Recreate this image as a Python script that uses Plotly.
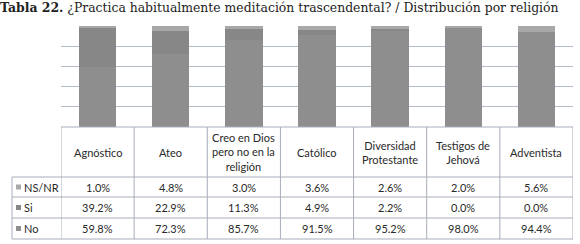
import plotly.graph_objects as go

categories = ["Agnóstico", "Ateo", "Creo en Dios<br>pero no en la<br>religión", "Católico",
              "Diversidad<br>Protestante", "Testigos de<br>Jehová", "Adventista"]
series_names = ["NS/NR", "Si", "No"]
ns_nr = [1.0, 4.8, 3.0, 3.6, 2.6, 2.0, 5.6]
si = [39.2, 22.9, 11.3, 4.9, 2.2, 0.0, 0.0]
no = [59.8, 72.3, 85.7, 91.5, 95.2, 98.0, 94.4]
series_values = [ns_nr, si, no]
series_colors = ["#a8a8a8", "#878787", "#8e8e8e"]

W, H = 580, 244
def py(p):
    return (H - p) / H
def px(p):
    return p / W

xs = list(range(len(categories)))

fig = go.Figure()
# stacked: No at bottom, Si, NS/NR on top
for idx in [2, 1, 0]:
    fig.add_trace(go.Bar(x=xs, y=series_values[idx], name=series_names[idx],
                         marker=dict(color=series_colors[idx], line=dict(width=0)),
                         showlegend=False, hoverinfo="skip"))

line_col = "#a7adba"
table_top, header_bot = 127, 177
row_edges = [177, 197, 218, 239]
label_left = 12

shapes = []
for i in range(len(categories) + 1):
    shapes.append(dict(type="line", xref="x", yref="paper", x0=i - 0.5, x1=i - 0.5,
                       y0=py(row_edges[-1]), y1=py(table_top),
                       line=dict(color=line_col, width=1)))
shapes.append(dict(type="line", xref="paper", yref="paper", x0=px(label_left), x1=px(label_left),
                   y0=py(row_edges[-1]), y1=py(header_bot), line=dict(color=line_col, width=1)))
shapes.append(dict(type="line", xref="x", yref="paper", x0=-0.5, x1=len(categories) - 0.5,
                   y0=py(table_top), y1=py(table_top), line=dict(color=line_col, width=1)))
for r in row_edges:
    shapes.append(dict(type="line", xref="paper", yref="paper", x0=px(label_left), x1=1 - px(7),
                       y0=py(r), y1=py(r), line=dict(color=line_col, width=1)))

annotations = []
annotations.append(dict(xref="paper", yref="paper", x=-0.003, y=1.01, xanchor="left", yanchor="top",
                        showarrow=False,
                        text="<b>Tabla 22.</b> ¿Practica habitualmente meditación trascendental? / Distribución por religión",
                        font=dict(family="DejaVu Serif", size=12.4, color="#222")))
tfont = dict(family="Lato", size=11, color="#2a2a2a")
for i, c in enumerate(categories):
    annotations.append(dict(xref="x", yref="paper", x=i, y=py((table_top + header_bot) / 2),
                            xanchor="center", yanchor="middle", showarrow=False, text=c,
                            font=tfont, align="center"))
for r, (name, vals) in enumerate(zip(series_names, series_values)):
    yc = py((row_edges[r] + row_edges[r + 1]) / 2)
    shapes.append(dict(type="rect", xref="paper", yref="paper",
                       x0=px(16), x1=px(21), y0=yc - 2.5 / H, y1=yc + 2.5 / H,
                       fillcolor=series_colors[r], line=dict(width=0)))
    annotations.append(dict(xref="paper", yref="paper", x=px(22), y=yc, xanchor="left",
                            yanchor="middle", showarrow=False, text=name, font=tfont))
    for i, v in enumerate(vals):
        annotations.append(dict(xref="x", yref="paper", x=i, y=yc, xanchor="center",
                                yanchor="middle", showarrow=False, text=f"{v:.1f}%", font=tfont))

fig.update_layout(
    width=W, height=H, margin=dict(l=0, r=0, t=0, b=0),
    paper_bgcolor="white", plot_bgcolor="white",
    barmode="stack", bargap=0.49,
    xaxis=dict(domain=[px(61), 1 - px(7)], range=[-0.5, len(categories) - 0.5],
               showticklabels=False, showgrid=False, zeroline=False, ticks=""),
    yaxis=dict(domain=[py(table_top), py(26)], range=[0, 100], dtick=20,
               showticklabels=False, showgrid=True, gridcolor="#b4bccb", gridwidth=1,
               zeroline=False, ticks=""),
    shapes=shapes, annotations=annotations,
)
fig.write_html("out.html", config={"displayModeBar": False},
               post_script="document.body.style.margin='0';document.body.style.overflow='hidden';")
